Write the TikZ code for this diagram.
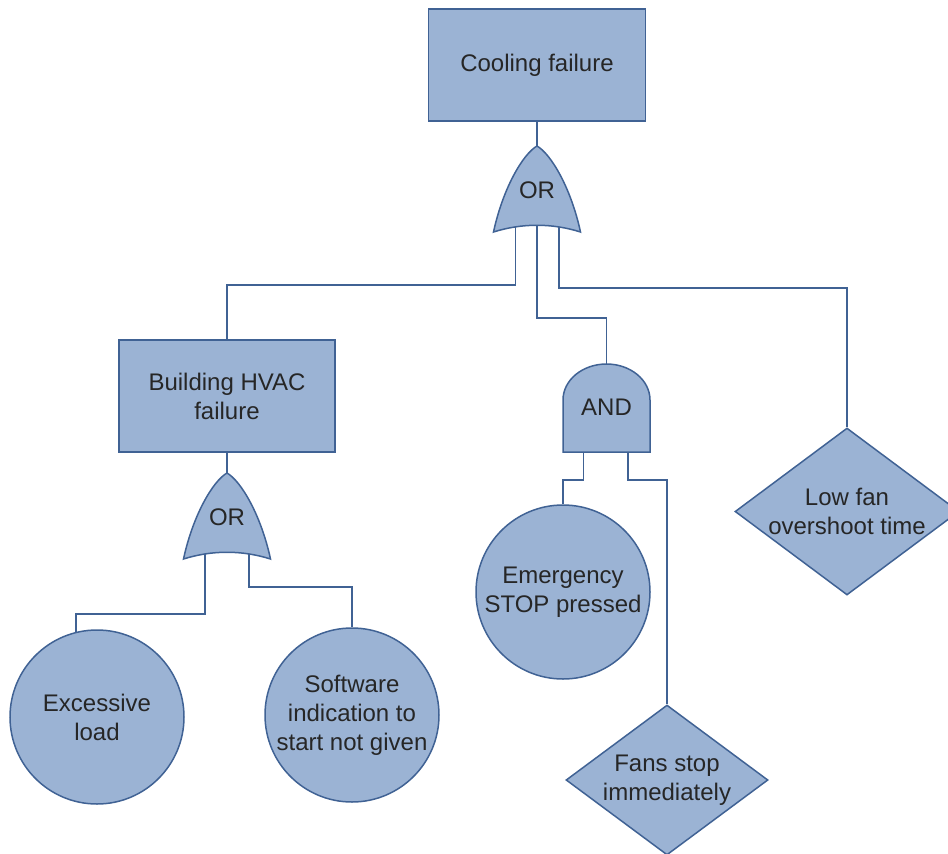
\documentclass[tikz,border=0pt]{standalone}
\usepackage{fontspec}
\setmainfont{Liberation Sans}
\usetikzlibrary{shapes.geometric,backgrounds}
\definecolor{evfill}{RGB}{155,179,212}
\definecolor{evline}{RGB}{64,98,148}
\begin{document}
\begin{tikzpicture}[x=1pt,y=-1pt,
  every node/.style={font=\fontsize{24}{29}\selectfont, text=black!85},
  event/.style={draw=evline, fill=evfill, line width=1.5pt},
  box/.style={event, rectangle, minimum width=217pt, minimum height=112pt, align=center, inner sep=0pt},
  basic/.style={event, circle, minimum size=174pt, inner sep=0pt, align=center},
  undev/.style={event, diamond, inner sep=0pt},
  lbl/.style={align=center, inner sep=0pt},
  wire/.style={draw=evline, line width=1.5pt},
  orgate/.pic={
    \path[event] (0,0) .. controls (-14,8) and (-34,42) .. (-43.5,86)
      .. controls (-15,77) and (15,77) .. (43.5,86)
      .. controls (34,42) and (14,8) .. (0,0) -- cycle;
    \node[lbl] (-lbl) at (0,44) {OR};
    \coordinate (-in) at (0,0);
    \coordinate (-o1) at (-21.5,75);
    \coordinate (-o2) at (0,75);
    \coordinate (-o3) at (22,75);
    \coordinate (-l) at (-22,75);
    \coordinate (-r) at (22,75);
  },
  andgate/.pic={
    \path[event] (-43.5,88) -- (-43.5,36)
      .. controls (-43.5,16.1) and (-24,0) .. (0,0)
      .. controls (24,0) and (43.5,16.1) .. (43.5,36)
      -- (43.5,88) -- cycle;
    \node[lbl] (-lbl) at (0,43) {AND};
    \coordinate (-in) at (0,0);
    \coordinate (-o1) at (-23,80);
    \coordinate (-o2) at (21.5,80);
  }]
\useasboundingbox (0,0) rectangle (948,854);

% events
\node[box] (top) at (537,65) {Cooling failure};
\node[box, minimum width=216pt] (hvac) at (227,396) {Building HVAC\\failure};
\node[basic] (excess) at (97,717) {Excessive\\load};
\node[basic] (soft) at (352,715) {Software\\indication to\\start not given};
\node[basic] (emerg) at (563,592) {Emergency\\STOP pressed};
\node[undev, minimum width=224pt, minimum height=167pt] (lowfan) at (847,511.5) {};
\node[lbl] (lowfantxt) at (lowfan) {Low fan\\overshoot time};
\node[undev, minimum width=202pt, minimum height=150pt] (fans) at (667,780) {};
\node[lbl] (fanstxt) at (fans) {Fans stop\\immediately};

% gates
\pic (g1) at (537,146) {orgate};
\pic (g2) at (227,473) {orgate};
\pic (and1) at (606.5,364) {andgate};

% rows of the horizontal wire runs
\coordinate (busA) at (0,285);
\coordinate (busB) at (0,318);
\coordinate (busC) at (0,288);
\coordinate (busD) at (0,480);
\coordinate (busE) at (0,614);
\coordinate (busF) at (0,587);

\begin{scope}[on background layer]
  \draw[wire] (top.south) -- (g1-in);
  \draw[wire] (g1-o1) -- (g1-o1 |- busA) -| (hvac.north);
  \draw[wire] (g1-o2) -- (g1-o2 |- busB) -| (and1-in);
  \draw[wire] (g1-o3) -- (g1-o3 |- busC) -| (lowfan.north);
  \draw[wire] (hvac.south) -- (g2-in);
  \draw[wire] (g2-l) -- (g2-l |- busE) -| (excess.104);
  \draw[wire] (g2-r) -- (g2-r |- busF) -| (soft.north);
  \draw[wire] (and1-o1) -- (and1-o1 |- busD) -| (emerg.north);
  \draw[wire] (and1-o2) -- (and1-o2 |- busD) -| (fans.north);
\end{scope}
\end{tikzpicture}
\end{document}
